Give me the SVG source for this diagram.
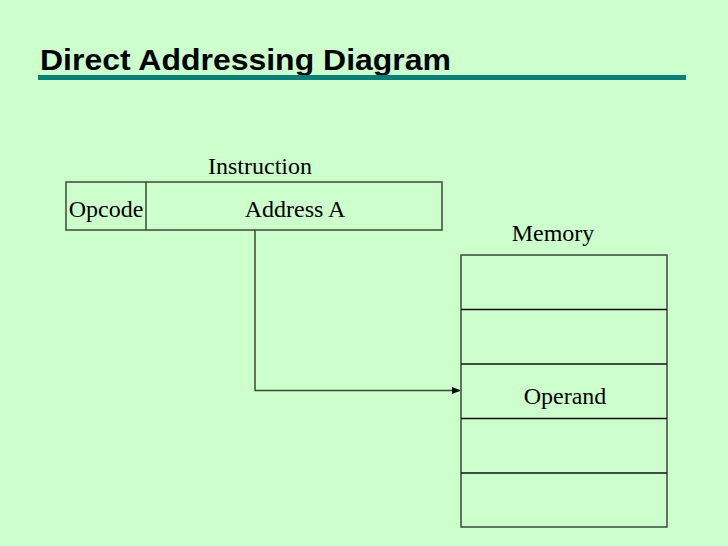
<svg xmlns="http://www.w3.org/2000/svg" width="728" height="546" viewBox="0 0 728 546">
<style>
.t{font-family:"Liberation Sans Narrow","Liberation Serif","Times New Roman",serif;font-size:24px;fill:#000;text-anchor:middle}
.t{font-family:"Liberation Serif","Times New Roman",serif}
.b{fill:none;stroke:#3a4a3a;stroke-width:1.5}
.l{stroke:#111;stroke-width:1.5}
</style>
<defs>
<marker id="ah" markerWidth="9" markerHeight="7" refX="8" refY="3.5" orient="auto" markerUnits="userSpaceOnUse">
<path d="M0,0 L9,3.5 L0,7 z" fill="#000"/>
</marker>
</defs>
<rect width="728" height="546" fill="#ccffcc"/>
<g id="title">
<text x="40" y="70" font-family="Liberation Sans,Arial,sans-serif" font-weight="bold" font-size="30" fill="#000" textLength="411" lengthAdjust="spacingAndGlyphs">Direct Addressing Diagram</text>
<rect x="38" y="75" width="648" height="5" fill="#0a8077"/>
</g>
<g id="instruction">
<text class="t" x="260" y="174">Instruction</text>
<rect class="b" x="66" y="182" width="376" height="48"/>
<line class="b" x1="146" y1="182" x2="146" y2="230"/>
<text class="t" x="106" y="217">Opcode</text>
<text class="t" x="295" y="217">Address A</text>
</g>
<g id="memory">
<text class="t" x="553" y="241">Memory</text>
<rect class="b" x="461" y="255" width="206" height="272"/>
<line class="l" x1="461" y1="309.5" x2="667" y2="309.5"/>
<line class="l" x1="461" y1="364" x2="667" y2="364"/>
<line class="l" x1="461" y1="418.5" x2="667" y2="418.5"/>
<line class="l" x1="461" y1="473" x2="667" y2="473"/>
<text class="t" x="565" y="404">Operand</text>
</g>
<g id="connectors">
<path d="M255,230 V390.5 H460" fill="none" stroke="#3a4a3a" stroke-width="1.5" marker-end="url(#ah)"/>
</g>
</svg>
